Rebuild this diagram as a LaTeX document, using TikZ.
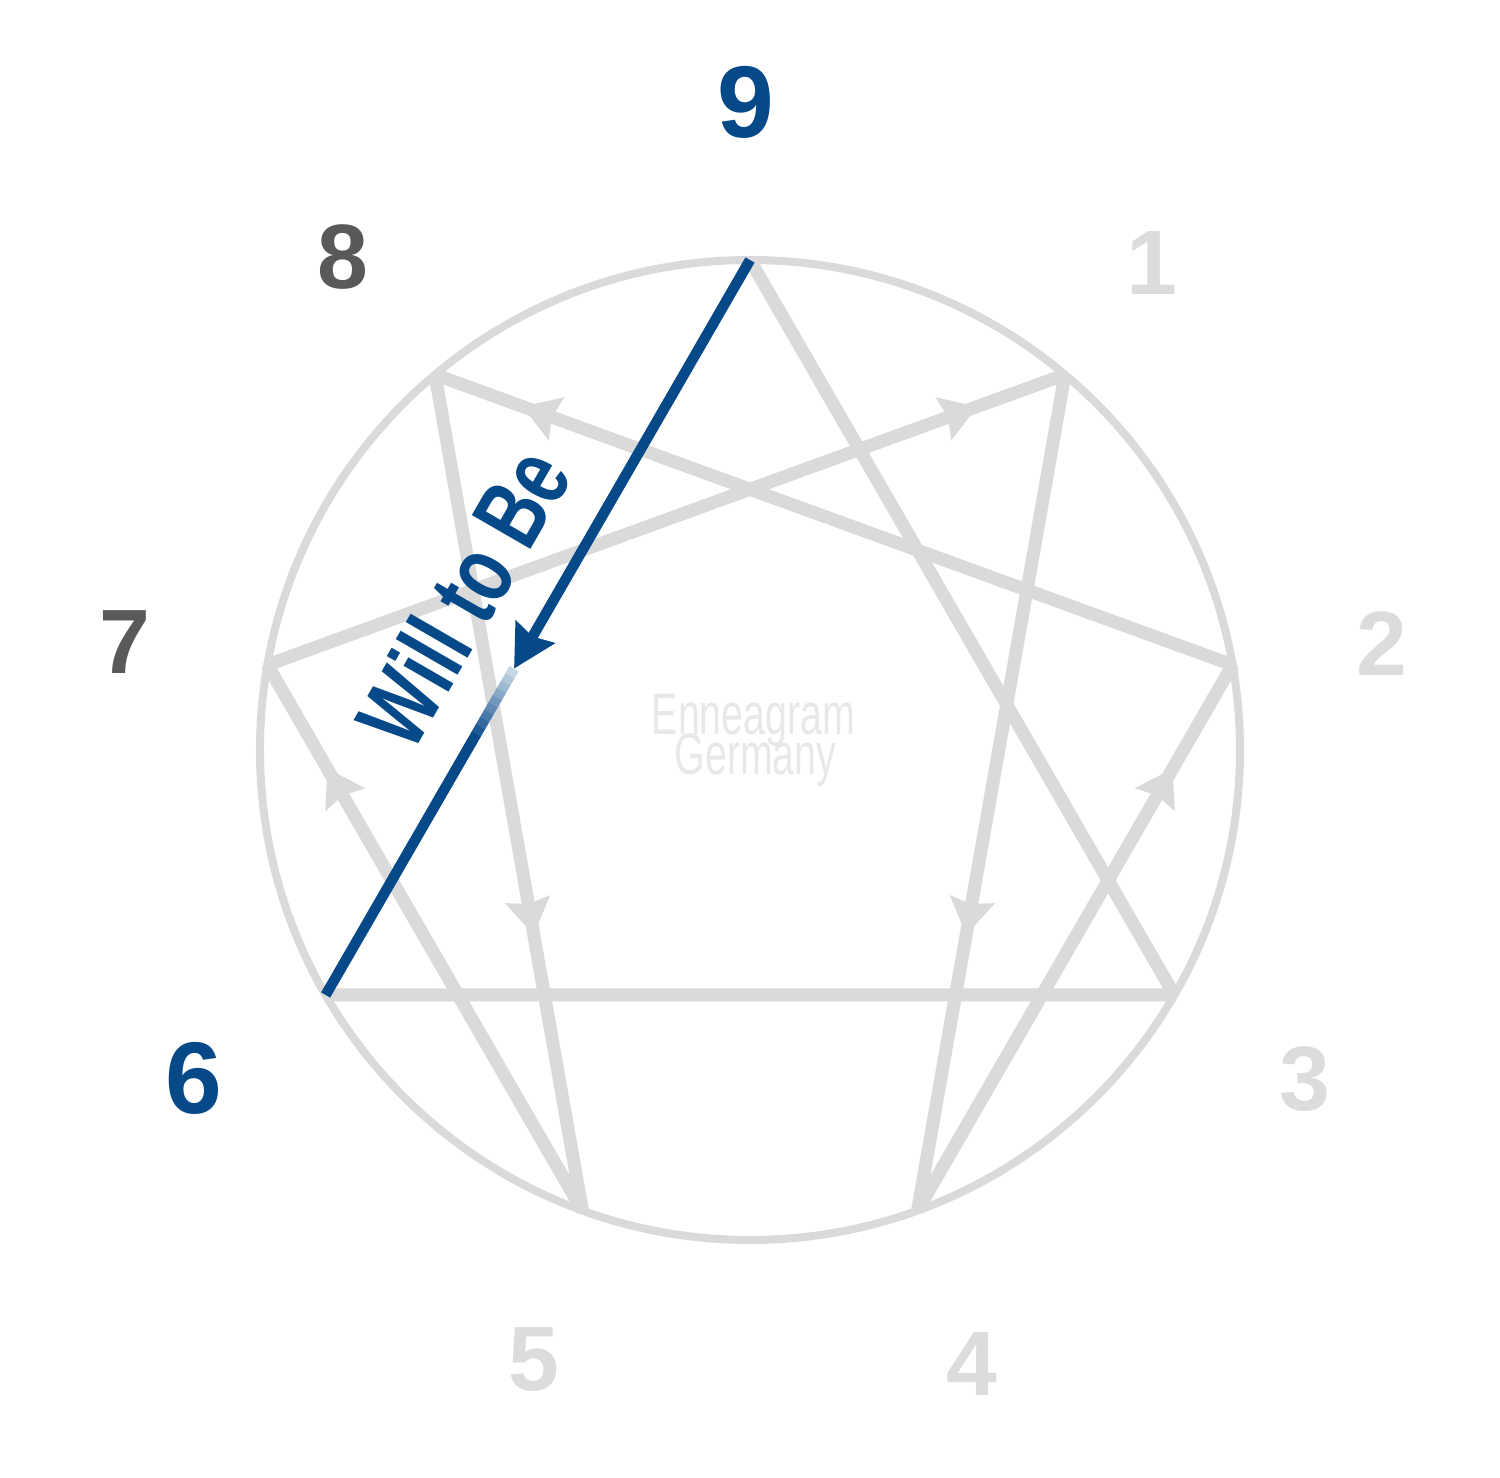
\documentclass[tikz,border=0pt]{standalone}
\usepackage{fontspec}
\setmainfont{Liberation Sans}
\usetikzlibrary{arrows.meta,calc,decorations.markings}

\definecolor{ennblue}{RGB}{6,73,137}
\definecolor{linegray}{RGB}{218,218,218}
\definecolor{numlight}{RGB}{220,220,220}
\definecolor{numdark}{RGB}{89,89,89}
\definecolor{markgray}{RGB}{232,232,232}

\newcommand{\narrow}[2]{\scalebox{#1}[1]{#2}}

\tikzstyle{ring}=[draw=linegray, line width=0.08cm]
\tikzstyle{hexline}=[draw=linegray, line width=0.13cm, line join=bevel]
\tikzstyle{willline}=[draw=ennblue, line width=0.105cm]
\tikzstyle{bluenum}=[text=ennblue, font=\fontsize{29}{29}\selectfont\bfseries, inner sep=0pt]
\tikzstyle{darknum}=[text=numdark, font=\fontsize{26}{26}\selectfont\bfseries, inner sep=0pt]
\tikzstyle{lightnum}=[text=numlight, font=\fontsize{26}{26}\selectfont\bfseries, inner sep=0pt]
\tikzstyle{willtext}=[text=ennblue, font=\fontsize{28}{28}\selectfont\bfseries, rotate=60, inner sep=0pt]
\tikzstyle{wmark}=[text=markgray, font=\fontsize{16.7}{16.7}\selectfont, inner sep=0pt, anchor=base]
\tikzset{midarrow/.style={color=linegray, postaction={decorate},
  decoration={markings, mark=at position #1 with {\arrow{Stealth[length=0.36cm,width=0.46cm,inset=0.05cm]}}}}}

\begin{document}
\begin{tikzpicture}
\useasboundingbox (-7.5,-7.28) rectangle (7.5,7.5);

% points on the circle
\coordinate (p9) at (90:4.9);
\coordinate (p1) at (50:4.9);
\coordinate (p2) at (10:4.9);
\coordinate (p3) at (-30:4.9);
\coordinate (p4) at (-70:4.9);
\coordinate (p5) at (-110:4.9);
\coordinate (p6) at (-150:4.9);
\coordinate (p7) at (170:4.9);
\coordinate (p8) at (130:4.9);

\draw[ring] (0,0) circle (4.9);

% triangle and hexad
\draw[hexline] (p9) -- (p3) -- (p6);
\draw[hexline] (p1) -- (p4) -- (p2) -- (p8) -- (p5) -- (p7) -- cycle;
\path[midarrow=0.67] (p1) -- (p4);
\path[midarrow=0.81] (p4) -- (p2);
\path[midarrow=0.89] (p2) -- (p8);
\path[midarrow=0.67] (p8) -- (p5);
\path[midarrow=0.81] (p5) -- (p7);
\path[midarrow=0.89] (p7) -- (p1);

\node[wmark] (enn) at (0.035,0.15) {\narrow{0.67}{Enneagram}};
\node[wmark] (ger) at (0.055,-0.25) {\narrow{0.67}{Germany}};

% 9 to 6
\coordinate (tip) at ($(p9)!0.556!(p6)$);
\coordinate (fade) at ($(p9)!0.655!(p6)$);
\draw[willline, -{Stealth[length=0.42cm,width=0.44cm,inset=0.05cm]}] (p9) -- (tip);
\foreach \k in {0,...,9}{
  \pgfmathsetmacro\ta{0.556+0.0099*\k}
  \pgfmathsetmacro\tb{\ta+0.0105}
  \pgfmathsetmacro\pc{22+8.6*\k}
  \draw[willline, draw=ennblue!\pc!white] ($(p9)!\ta!(p6)$) -- ($(p9)!\tb!(p6)$);
}
\draw[willline] (fade) -- (p6);

\coordinate (wmid) at ($(p6)!0.487!(p9)$);
\node[willtext] (will) at ($(wmid)!0.8cm!90:(p9)$) {\narrow{0.72}{Will to Be}};

% numbers
\node[bluenum] (n9) at (-0.04,6.48) {9};
\node[darknum] (n8) at (-4.07,4.93) {8};
\node[lightnum] (n1) at (4.02,4.87) {1};
\node[darknum] (n7) at (-6.25,1.08) {7};
\node[lightnum] (n2) at (6.32,1.06) {2};
\node[bluenum] (n6) at (-5.56,-3.28) {6};
\node[lightnum] (n3) at (5.55,-3.29) {3};
\node[lightnum] (n5) at (-2.16,-6.1) {5};
\node[lightnum] (n4) at (2.22,-6.14) {4};
\end{tikzpicture}
\end{document}
